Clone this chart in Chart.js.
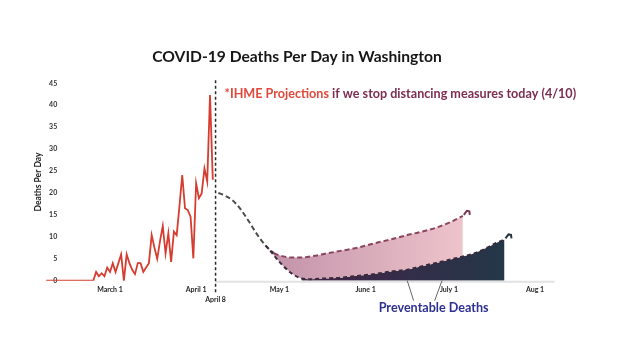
<!DOCTYPE html>
<html><head><meta charset="utf-8">
<script src="https://cdn.jsdelivr.net/npm/chart.js@4.4.1/dist/chart.umd.min.js"></script>
<style>html,body{margin:0;padding:0;background:#fff}</style>
</head><body>
<canvas id="c" width="620" height="342" style="width:620px;height:342px;display:block"></canvas>
<script>
// ---- text ----
const titleText = 'COVID-19 Deaths Per Day in Washington';
const noteRed = '*IHME Projections';
const notePurple = ' if we stop distancing measures today (4/10)';
const calloutText = 'Preventable Deaths';
const yAxisTitle = 'Deaths Per Day';

// ---- x axis (day of year 2020) ----
const tickDays   = [61, 92, 99, 122, 153, 183, 214];
const tickLabels = ['March 1', 'April 1', ['', 'April 8'], 'May 1', 'June 1', 'July 1', 'Aug 1'];
const cutoffDay  = 99;     // April 8
const xMinDay = 38, xMaxDay = 221;
const yTicks = [0,5,10,15,20,25,30,35,40,45];

// ---- reported deaths per day, starting Feb 7 (day 38), one value per day ----
const actualStartDay = 38;
const actualDeaths = [0,0,0,0,0,0,0,0,0,0,0,0,0,0,0,0,0,0,
  2,1,1.7,1,3, 2,4,2,4,6, 0,6,4,2.5,1.5, 4,4,2,3,4, 10.4,7.5,5,9,12.5,
  6.2,10.8,4.3,11.2,10.4, 17,24.1,16.5,16.1,14.6, 5.1,22.2,18.8,19.9,25.6, 22.6,42.3,23];

// ---- IHME projection if distancing stops ----
const upperDays = [100,102,105,108,111,114,117,120,123,126,130,134,138,144,150,156,162,168,172,178,184,188];
const upperVals = [20,19.5,18.4,16.3,13.5,10.5,8.0,6.3,5.6,5.3,5.3,5.6,6.1,6.8,7.5,8.5,9.4,10.4,11.0,12.0,13.5,14.8];

// ---- projection with distancing kept ----
const lowerDays = [117,119,121,123,125,127,130,133,138,144,150,156,162,168,172,178,184,188,192,197,200,203];
const lowerVals = [8.0,6.6,5.0,3.6,2.4,1.4,0.5,0.35,0.5,0.7,1.1,1.5,2.1,2.5,3.1,4.0,4.9,5.5,6.2,7.6,8.6,9.4];
const divergeDay = 118;
const darkStartDay = 130;

const xy = (days, vals) => days.map((d, i) => ({x: d, y: vals[i]}));
const actualPts = actualDeaths.map((v, i) => ({x: actualStartDay + i, y: v}));
const upperPts = xy(upperDays, upperVals);
const lowerPts = xy(lowerDays, lowerVals);
const darkPts = lowerPts.filter(p => p.x >= darkStartDay);

const FAM = 'Lato, "Open Sans", sans-serif';

function hGrad(chart, d0, d1, c0, c1, fallback) {
  const x = chart.scales.x;
  if (!x || !chart.chartArea) return fallback;
  const g = chart.ctx.createLinearGradient(x.getPixelForValue(d0), 0, x.getPixelForValue(d1), 0);
  g.addColorStop(0, c0); g.addColorStop(1, c1);
  return g;
}

function fitSize(ctx, text, weight, width) {
  ctx.font = `${weight} 20px ${FAM}`;
  return 20 * width / ctx.measureText(text).width;
}

function hook(ctx, px, py, color) {
  ctx.save();
  ctx.strokeStyle = color; ctx.lineWidth = 2; ctx.setLineDash([]); ctx.lineCap = 'butt';
  ctx.beginPath();
  ctx.moveTo(px + 1, py - 1);
  ctx.lineTo(px + 4, py - 5);
  ctx.lineTo(px + 6.5, py - 4.5);
  ctx.lineTo(px + 7, py - 1);
  ctx.stroke();
  ctx.restore();
}

const overlay = {
  id: 'overlay',
  beforeDatasetsDraw(chart) {
    const {ctx, chartArea: ca, scales: {x, y}} = chart;
    ctx.save();
    ctx.strokeStyle = '#e2e2e2'; ctx.lineWidth = 2;
    const y0 = y.getPixelForValue(0) + 1;
    ctx.beginPath(); ctx.moveTo(x.getPixelForValue(cutoffDay), y0); ctx.lineTo(ca.right, y0); ctx.stroke();
    // pointer lines to "Preventable Deaths"
    const cx = x.getPixelForValue(177.5);
    ctx.strokeStyle = '#666'; ctx.lineWidth = 1;
    ctx.beginPath();
    ctx.moveTo(cx - 20, ca.bottom + 20); ctx.lineTo(x.getPixelForValue(168), ca.bottom);
    ctx.moveTo(cx + 1, ca.bottom + 20); ctx.lineTo(x.getPixelForValue(180.5), ca.bottom);
    ctx.stroke();
    ctx.restore();
  },
  afterDatasetsDraw(chart) {
    const {ctx, chartArea: ca, scales: {x, y}} = chart;
    ctx.save();
    // cutoff dashed line
    const cxp = x.getPixelForValue(cutoffDay);
    ctx.strokeStyle = '#2b2b2b'; ctx.lineWidth = 1.5; ctx.setLineDash([3, 2.5]);
    ctx.beginPath(); ctx.moveTo(cxp, ca.top - 3); ctx.lineTo(cxp, ca.bottom + 12); ctx.stroke();
    ctx.setLineDash([]);
    // end hooks
    const lu = upperPts[upperPts.length - 1], ll = lowerPts[lowerPts.length - 1];
    hook(ctx, x.getPixelForValue(lu.x), y.getPixelForValue(lu.y), '#7b3a52');
    hook(ctx, x.getPixelForValue(ll.x), y.getPixelForValue(ll.y), '#26323f');
    // title
    ctx.textBaseline = 'middle';
    ctx.textAlign = 'center';
    let s = fitSize(ctx, titleText, 'bold', 290);
    ctx.font = `bold ${s}px ${FAM}`; ctx.fillStyle = '#161616';
    ctx.fillText(titleText, 297, 57);
    // note
    s = fitSize(ctx, noteRed + notePurple, 'bold', 352);
    ctx.font = `bold ${s}px ${FAM}`;
    ctx.textAlign = 'left';
    const nx = cxp + 9, ny = ca.top + 11;
    ctx.fillStyle = '#e2483b'; ctx.fillText(noteRed, nx, ny);
    const w1 = ctx.measureText(noteRed).width;
    ctx.fillStyle = '#7d2e50'; ctx.fillText(notePurple, nx + w1, ny);
    // callout
    s = fitSize(ctx, calloutText, 'bold', 110);
    ctx.font = `bold ${s}px ${FAM}`;
    ctx.textAlign = 'center'; ctx.fillStyle = '#2e3192';
    ctx.fillText(calloutText, x.getPixelForValue(177.5), ca.bottom + 27);
    ctx.restore();
  }
};

new Chart(document.getElementById('c'), {
  type: 'line',
  data: {
    datasets: [
      { label: 'Reported', data: actualPts, borderColor: '#d63c2f', borderWidth: 1.8,
        pointRadius: 0, tension: 0, fill: false, order: 0 },
      { label: 'Projection (stop distancing)', data: upperPts, borderWidth: 2, borderDash: [5, 3],
        borderColor: '#8a4460', pointRadius: 0, cubicInterpolationMode: 'monotone',
        segment: { borderColor: c => c.p0.parsed.x < divergeDay ? '#4d4d4d' : '#8a4460' },
        fill: '+1',
        backgroundColor: c => hGrad(c.chart, divergeDay, 188, '#c292a9', '#eec4cb', '#ddb3c0'),
        order: 2 },
      { label: 'Projection (distancing)', data: lowerPts, borderWidth: 2, borderDash: [4, 3],
        borderColor: '#3a2a3c', pointRadius: 0, cubicInterpolationMode: 'monotone', fill: false, order: 1 },
      { label: 'Dark', data: darkPts, borderWidth: 0, pointRadius: 0, cubicInterpolationMode: 'monotone',
        fill: 'origin',
        backgroundColor: c => hGrad(c.chart, darkStartDay, 203, '#44234a', '#243748', '#333'),
        order: 3 }
    ]
  },
  options: {
    responsive: false, animation: false, devicePixelRatio: 1,
    layout: { padding: { left: 27.5, right: 65.5, top: 83.3, bottom: 33.3 } },
    plugins: { legend: { display: false }, tooltip: { enabled: false }, title: { display: false } },
    scales: {
      x: {
        type: 'linear', min: xMinDay, max: xMaxDay,
        grid: { display: false, drawTicks: false }, border: { display: false },
        afterBuildTicks: a => { a.ticks = tickDays.map(v => ({ value: v })); },
        ticks: {
          autoSkip: false, maxRotation: 0, padding: 3.5,
          font: { family: FAM, size: 7, weight: 'bold', lineHeight: 1.5 }, color: '#262626',
          callback: v => { const i = tickDays.indexOf(v); return i >= 0 ? tickLabels[i] : ''; }
        }
      },
      y: {
        min: 0, max: 45,
        grid: { display: false, drawTicks: false }, border: { display: false },
        afterBuildTicks: a => { a.ticks = yTicks.map(v => ({ value: v })); },
        ticks: { mirror: true, crossAlign: 'far', padding: 3,
          font: { family: FAM, size: 7, weight: 'bold' }, color: '#333' },
        title: { display: true, text: yAxisTitle, color: '#222',
          font: { family: FAM, size: 8.5, weight: 'bold' }, padding: { top: 6, bottom: -3.6 } }
      }
    }
  },
  plugins: [overlay]
});
</script>
</body></html>
